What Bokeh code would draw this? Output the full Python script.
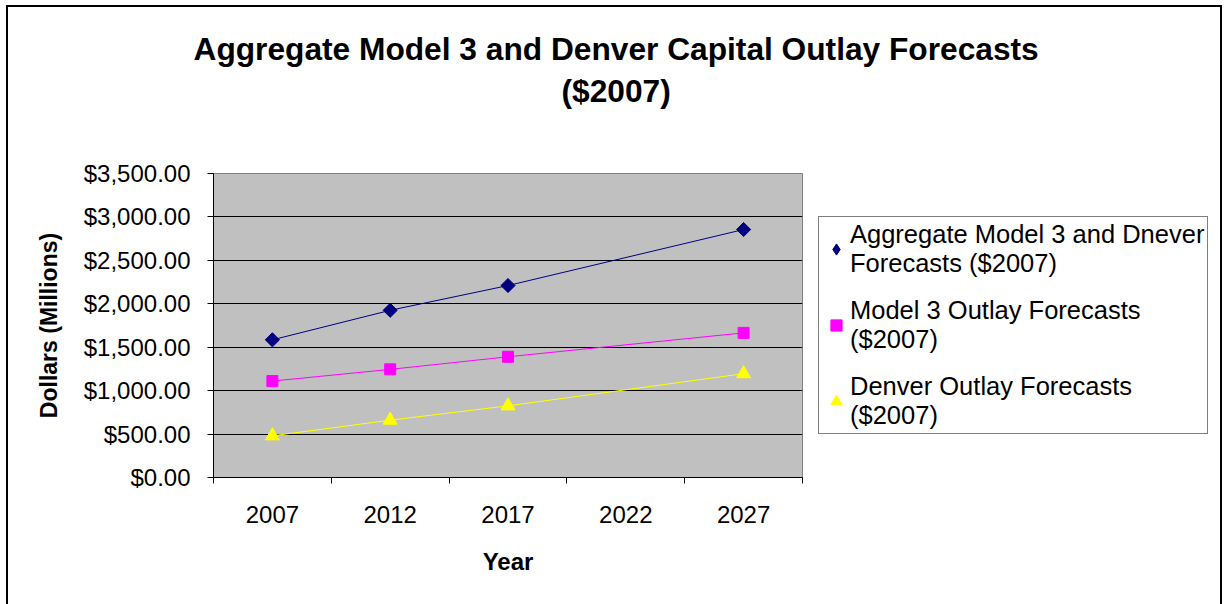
import math
from bokeh.plotting import figure
from bokeh.models import (FixedTicker, NumeralTickFormatter, Legend, LegendItem,
                          Title, ColumnDataSource)
from bokeh.embed import file_html
from bokeh.resources import INLINE

# ---- data ----
categories = ["2007", "2012", "2017", "2022", "2027"]
series_years = ["2007", "2012", "2017", "2027"]
aggregate = [1585, 1925, 2210, 2855]
model3 = [1110, 1245, 1390, 1665]
denver = [480, 660, 825, 1195]
y_ticks = [0, 500, 1000, 1500, 2000, 2500, 3000, 3500]
title_line1 = "Aggregate Model 3 and Denver Capital Outlay Forecasts"
title_line2 = "($2007)"
legend_labels = ["Aggregate Model 3 and Dnever\nForecasts ($2007)",
                 "Model 3 Outlay Forecasts\n($2007)",
                 "Denver Outlay Forecasts\n($2007)"]

FONT = "Liberation Sans"

x_pos = [categories.index(y) + 0.5 for y in series_years]

W, H = 1224, 604
FL, FR, FT, FB = 213, 802, 173, 477
p = figure(width=W, height=H, frame_width=FR - FL, frame_height=FB - FT,
           output_backend="svg", toolbar_location=None, title=None,
           x_range=(0, len(categories)), y_range=(y_ticks[0], y_ticks[-1]),
           min_border_left=FL, min_border_right=0,
           min_border_top=FT, min_border_bottom=H - FB)
p.styles = {
    "background-color": "white",
    "background-image": "linear-gradient(black, black), linear-gradient(black, black), linear-gradient(black, black)",
    "background-position": "6px 5px, 6px 5px, 1220px 5px",
    "background-size": "1216px 2px, 2px 100%, 2px 100%",
    "background-repeat": "no-repeat",
}
p.background_fill_color = "#C0C0C0"
p.border_fill_alpha = 0
p.outline_line_color = "#808080"
p.outline_line_width = 1

# x axis
p.xaxis.ticker = FixedTicker(ticks=[i + 0.5 for i in range(len(categories))],
                             minor_ticks=list(range(len(categories) + 1)))
p.xaxis.major_label_overrides = {i + 0.5: c for i, c in enumerate(categories)}
p.xaxis.major_tick_out = 0
p.xaxis.major_tick_in = 0
p.xaxis.minor_tick_out = 6
p.xaxis.minor_tick_in = 0
p.xaxis.minor_tick_line_color = "black"
p.xaxis.axis_line_color = "black"
p.xaxis.major_label_standoff = 22
p.xaxis.major_label_text_font = FONT
p.xaxis.major_label_text_font_size = "24px"
p.xaxis.major_label_text_color = "black"
p.xaxis.axis_label = "Year"
p.xaxis.axis_label_text_font = FONT
p.xaxis.axis_label_text_font_size = "24px"
p.xaxis.axis_label_text_font_style = "bold"
p.xaxis.axis_label_text_color = "black"
p.xaxis.axis_label_standoff = 22

# y axis
p.yaxis.ticker = FixedTicker(ticks=y_ticks, minor_ticks=[])
p.yaxis.formatter = NumeralTickFormatter(format="$0,0.00")
p.yaxis.major_tick_out = 6
p.yaxis.major_tick_in = 0
p.yaxis.major_tick_line_color = "black"
p.yaxis.axis_line_color = "black"
p.yaxis.major_label_standoff = 17
p.yaxis.major_label_text_font = FONT
p.yaxis.major_label_text_font_size = "24px"
p.yaxis.major_label_text_color = "black"
p.yaxis.axis_label = "Dollars (Millions)"
p.yaxis.axis_label_text_font = FONT
p.yaxis.axis_label_text_font_size = "23px"
p.yaxis.axis_label_text_font_style = "bold"
p.yaxis.axis_label_text_color = "black"
p.yaxis.axis_label_standoff = 19

p.xgrid.grid_line_color = None
p.ygrid.ticker = FixedTicker(ticks=y_ticks[1:-1])
p.ygrid.grid_line_color = "black"
p.ygrid.grid_line_width = 1

# series
src = ColumnDataSource(dict(x=x_pos, agg=aggregate, m3=model3, den=denver))
p.line("x", "agg", source=src, line_color="#000080", line_width=1)
p.line("x", "m3", source=src, line_color="#FF00FF", line_width=1)
p.line("x", "den", source=src, line_color="#FFFF00", line_width=1)
# diamond used for the legend swatch (fully covered by the rotated squares below)
r1 = p.scatter("x", "agg", source=src, marker="diamond", size=12,
               fill_color="#000080", line_color="#000080")
p.scatter("x", "agg", source=src, marker="square", angle=math.pi / 4, size=10,
          fill_color="#000080", line_color="#000080")
r2 = p.scatter("x", "m3", source=src, marker="square", size=11,
               fill_color="#FF00FF", line_color="#FF00FF")
r3 = p.scatter("x", "den", source=src, marker="triangle", size=14,
               fill_color="#FFFF00", line_color="#FFFF00")

legend = Legend(items=[LegendItem(label=legend_labels[0], renderers=[r1]),
                       LegendItem(label=legend_labels[1], renderers=[r2]),
                       LegendItem(label=legend_labels[2], renderers=[r3])],
                location="left")
legend.label_text_font = FONT
legend.label_text_font_size = "25.5px"
legend.label_text_color = "black"
legend.label_text_line_height = 1.3
legend.glyph_width = 28
legend.glyph_height = 28
legend.label_standoff = 0
legend.padding = 3
legend.spacing = 18
legend.margin = 16
legend.border_line_color = "black"
legend.border_line_width = 1
legend.background_fill_color = "white"
legend.background_fill_alpha = 1
p.add_layout(legend, "right")

# title: spacer (innermost), then line 2, then line 1
title_kw = dict(align="left", text_font=FONT, text_font_size="31.7px",
                text_font_style="bold", text_color="black", standoff=4)
p.add_layout(Title(text=" ", align="left", text_font=FONT, text_font_size="40px",
                   standoff=17), "above")
p.add_layout(Title(text=title_line2, offset=348, **title_kw), "above")
p.add_layout(Title(text=title_line1, offset=-20, **title_kw), "above")

open("out.html", "w").write(file_html(p, INLINE))
